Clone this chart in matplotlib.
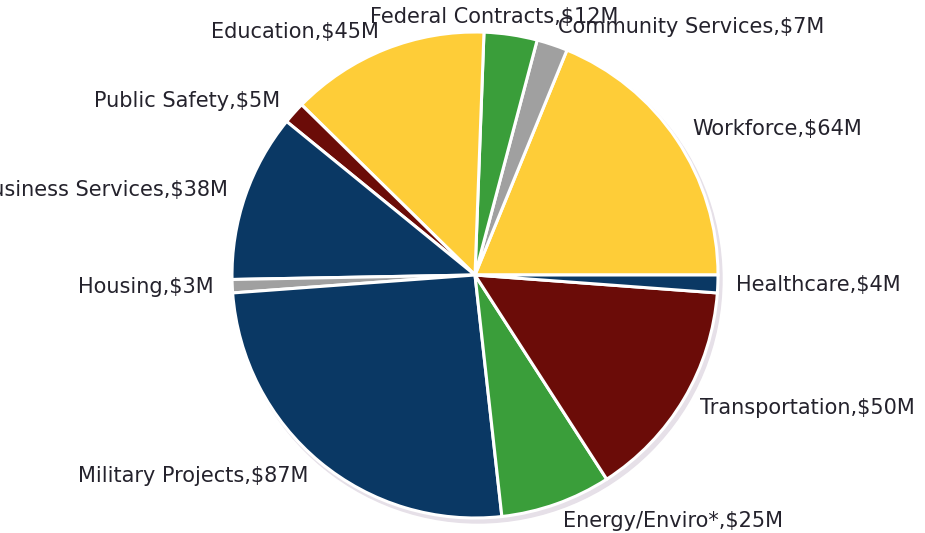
import numpy as np
import matplotlib.pyplot as plt
from matplotlib.patches import Circle

plt.rcParams['font.family'] = ['DejaVu Sans']

labels = ['Workforce', 'Community Services', 'Federal Contracts', 'Education',
          'Public Safety', 'Business Services', 'Housing', 'Military Projects',
          'Energy/Enviro*', 'Transportation', 'Healthcare']
values = [64, 7, 12, 45, 5, 38, 3, 87, 25, 50, 4]
colors = ['#fecd38', '#a0a0a0', '#3a9e3a', '#fecd38', '#6b0c08', '#0a3864',
          '#a0a0a0', '#0a3864', '#3a9e3a', '#6b0c08', '#0a3864']

W, H = 925, 533
cx, cy, R = 475, H - 275, 243

fig = plt.figure(figsize=(W / 100, H / 100), dpi=100)
ax = fig.add_axes([0, 0, 1, 1])

# soft drop shadow behind the pie
ax.add_patch(Circle((cx + 3, cy - 4), R + 1, color='#e6e0e8', zorder=0))

wedges, _ = ax.pie(values, colors=colors, startangle=0, counterclock=True,
                   center=(cx, cy), radius=R,
                   wedgeprops=dict(edgecolor='white', linewidth=2.2))
for w in wedges:
    w.set_zorder(1)

# pie() resets the limits, so set the pixel frame afterwards
ax.set_xlim(0, W)
ax.set_ylim(0, H)
ax.set_aspect('equal')
ax.axis('off')

for w, lab, v in zip(wedges, labels, values):
    mid = np.deg2rad((w.theta1 + w.theta2) / 2)
    x = cx + 1.075 * R * np.cos(mid)
    y = cy + 1.075 * R * np.sin(mid)
    if abs(np.cos(mid)) < 0.2 and np.sin(mid) > 0.98:
        ha = 'center'
        x -= 19
    else:
        ha = 'left' if np.cos(mid) > 0 else 'right'
    ax.text(x, y, f'{lab},${v}M', ha=ha, va='center', fontsize=15,
            color='#24222c', zorder=3)

plt.savefig('out.png', dpi=100)
